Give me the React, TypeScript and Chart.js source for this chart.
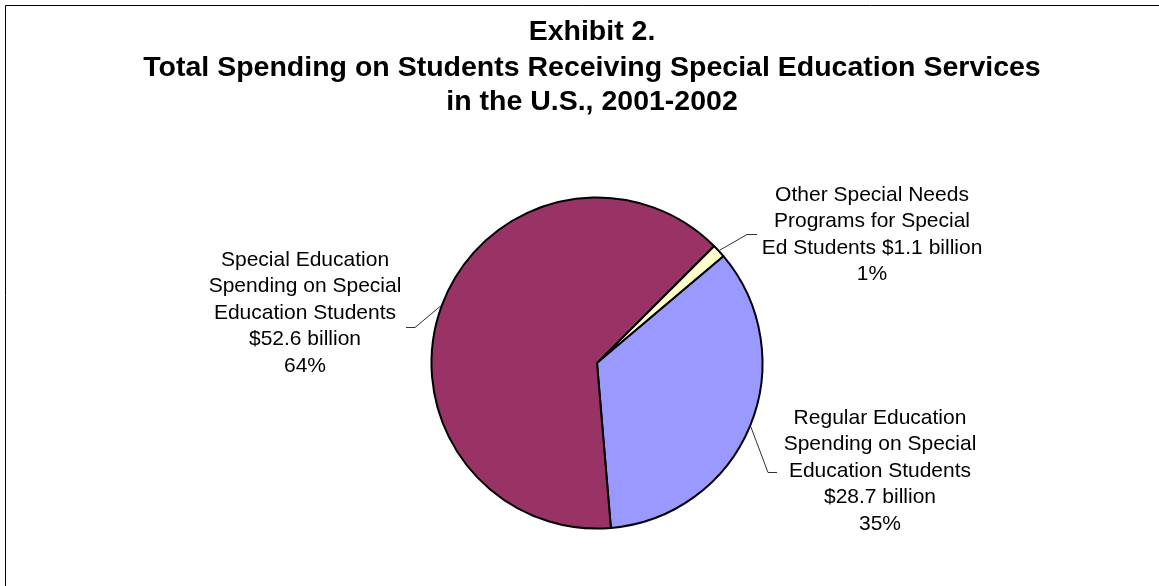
import React, { useEffect, useRef } from "react";
import { Chart, registerables } from "chart.js";

Chart.register(...registerables);

// ---- Data ----
const categories = [
  "Other Special Needs Programs for Special Ed Students",
  "Regular Education Spending on Special Education Students",
  "Special Education Spending on Special Education Students",
];
const values = [1.1, 28.7, 52.6]; // $ billion
const sliceColors = ["#FFFFCC", "#9999FF", "#993366"];
const labelNameLines = [
  ["Other Special Needs", "Programs for Special", "Ed Students"],
  ["Regular Education", "Spending on Special", "Education Students"],
  ["Special Education", "Spending on Special", "Education Students"],
];
const valueOnNameLine = [true, false, false];
const titleLines = [
  "Exhibit 2.",
  "Total Spending on Students Receiving Special Education Services",
  "in the U.S., 2001-2002",
];

// ---- Layout (positions relative to pie centre) ----
const labelLayout = [
  { dx: 275, dy: -168, elbow: [150, -129], end: [160, -129], anchorDeg: null as number | null },
  { dx: 283, dy: 55, elbow: [171, 109], end: [180, 109], anchorDeg: null as number | null },
  { dx: -292, dy: -103, elbow: [-182, -36], end: [-191, -36], anchorDeg: -160 as number | null },
];
const FONT = '"Liberation Sans", Arial, Helvetica, sans-serif';
const LABEL_SIZE = 21;
const LABEL_LINE_H = 26.5;
const TITLE_X = 592;
const TITLE_SIZE = 28.5;
const TITLE_BASELINES = [40, 75.5, 110];

const frameAndTitle = {
  id: "frameAndTitle",
  beforeDraw(chart: any) {
    const ctx = chart.ctx;
    ctx.save();
    ctx.fillStyle = "#ffffff";
    ctx.fillRect(0, 0, chart.width, chart.height);
    ctx.strokeStyle = "#000000";
    ctx.lineWidth = 1;
    ctx.beginPath();
    ctx.moveTo(5.5, chart.height);
    ctx.lineTo(5.5, 5.5);
    ctx.lineTo(chart.width, 5.5);
    ctx.stroke();
    ctx.fillStyle = "#000000";
    ctx.font = `bold ${TITLE_SIZE}px ${FONT}`;
    ctx.textAlign = "center";
    ctx.textBaseline = "alphabetic";
    titleLines.forEach((t, i) => ctx.fillText(t, TITLE_X, TITLE_BASELINES[i]));
    ctx.restore();
  },
};

const pieLabels = {
  id: "pieLabels",
  afterDraw(chart: any) {
    const ctx = chart.ctx;
    const meta = chart.getDatasetMeta(0);
    const data: number[] = chart.data.datasets[0].data;
    const total = data.reduce((a, b) => a + b, 0);
    ctx.save();
    meta.data.forEach((arc: any, i: number) => {
      const p = arc.getProps(["x", "y", "startAngle", "endAngle", "outerRadius"], true);
      const L = labelLayout[i];
      const ang = L.anchorDeg != null ? (L.anchorDeg * Math.PI) / 180 : (p.startAngle + p.endAngle) / 2;
      const r = p.outerRadius + 1;
      // leader line
      ctx.strokeStyle = "#303030";
      ctx.lineWidth = 1;
      ctx.beginPath();
      ctx.moveTo(p.x + r * Math.cos(ang), p.y + r * Math.sin(ang));
      ctx.lineTo(p.x + L.elbow[0], p.y + L.elbow[1] + 0.5);
      ctx.lineTo(p.x + L.end[0], p.y + L.end[1] + 0.5);
      ctx.stroke();
      // text
      const v = data[i];
      const valueText = "$" + v.toFixed(1) + " billion";
      const pct = Math.round((v / total) * 100) + "%";
      const lines = [...labelNameLines[i]];
      if (valueOnNameLine[i]) {
        lines[lines.length - 1] = lines[lines.length - 1] + " " + valueText;
      } else {
        lines.push(valueText);
      }
      lines.push(pct);
      ctx.fillStyle = "#000000";
      ctx.font = `${LABEL_SIZE}px ${FONT}`;
      ctx.textAlign = "center";
      ctx.textBaseline = "middle";
      lines.forEach((t, k) => ctx.fillText(t, p.x + L.dx, p.y + L.dy + k * LABEL_LINE_H));
    });
    ctx.restore();
  },
};

export default function App() {
  const ref = useRef<HTMLCanvasElement | null>(null);
  useEffect(() => {
    if (!ref.current) return;
    const chart = new Chart(ref.current, {
      type: "pie",
      data: {
        labels: categories,
        datasets: [
          {
            data: values,
            backgroundColor: sliceColors,
            borderColor: "#000000",
            borderWidth: 2,
          },
        ],
      },
      options: {
        responsive: false,
        devicePixelRatio: 1,
        animation: false,
        rotation: 45,
        layout: { padding: { left: 35, right: 0, top: 196.5, bottom: 56.5 } },
        plugins: {
          legend: { display: false },
          tooltip: { enabled: false },
          title: { display: false },
        },
      },
      plugins: [frameAndTitle, pieLabels],
    });
    return () => chart.destroy();
  }, []);
  return (
    <div style={{ position: "fixed", left: 0, top: 0, width: 1159, height: 586, background: "#fff" }}>
      <canvas ref={ref} width={1159} height={586} style={{ display: "block" }} />
    </div>
  );
}
